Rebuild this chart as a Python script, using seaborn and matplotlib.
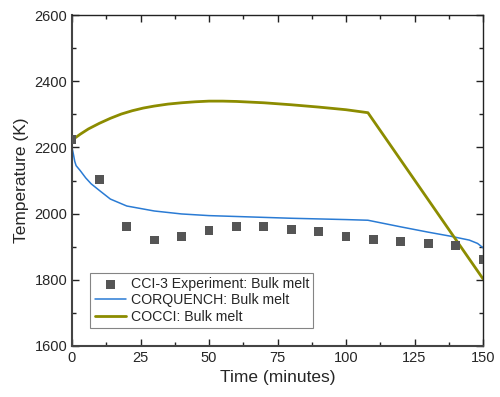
import numpy as np
import pandas as pd
import matplotlib
matplotlib.use('Agg')
import matplotlib.pyplot as plt
import seaborn as sns
from matplotlib.ticker import MultipleLocator

sns.set_style('ticks')
plt.rcParams['font.family'] = ['Liberation Sans', 'DejaVu Sans']

# CCI-3 experiment (bulk melt)
exp_time = [0, 10, 20, 30, 40, 50, 60, 70, 80, 90, 100, 110, 120, 130, 140, 150]
exp_temp = [2225, 2102, 1962, 1920, 1930, 1950, 1962, 1960, 1952, 1945, 1930, 1922, 1915, 1910, 1903, 1862]

# CORQUENCH model
corq_time = [0, 0.5, 1, 1.5, 2, 3, 5, 7, 10, 14, 20, 30, 40, 50, 65, 80, 100, 108, 120, 130, 138, 145, 148, 150]
corq_temp = [2200, 2180, 2158, 2145, 2140, 2130, 2108, 2090, 2070, 2044, 2023, 2008, 1999, 1994, 1990, 1986, 1982, 1980, 1960, 1944, 1932, 1920, 1910, 1897]

# COCCI model
cocci_time = [0, 3, 6, 10, 14, 18, 22, 26, 30, 35, 40, 45, 50, 55, 60, 70, 80, 90, 100, 108, 150]
cocci_temp = [2222, 2240, 2256, 2273, 2288, 2301, 2311, 2319, 2325, 2331, 2335, 2338, 2340, 2340, 2339, 2335, 2329, 2322, 2314, 2305, 1803]

fig = plt.figure(figsize=(5, 3.97), dpi=100)
ax = fig.add_axes([0.144, 0.1285, 0.822, 0.8335])

sns.scatterplot(x=exp_time, y=exp_temp, marker='s', s=40, color='#555555',
                edgecolor='none', label='CCI-3 Experiment: Bulk melt', ax=ax, zorder=3)
sns.lineplot(x=corq_time, y=corq_temp, color='#2a7bd4', linewidth=1.1,
             label='CORQUENCH: Bulk melt', ax=ax, zorder=2)
sns.lineplot(x=cocci_time, y=cocci_temp, color='#8c8c00', linewidth=2,
             label='COCCI: Bulk melt', ax=ax, zorder=2)

ax.set_xlim(0, 150)
ax.set_ylim(1600, 2600)
ax.xaxis.set_major_locator(MultipleLocator(25))
ax.xaxis.set_minor_locator(MultipleLocator(12.5))
ax.yaxis.set_major_locator(MultipleLocator(200))
ax.yaxis.set_minor_locator(MultipleLocator(100))
ax.tick_params(which='both', direction='in', top=True, right=True, labelsize=10.5, color='#222222')
ax.tick_params(which='major', length=5, width=1)
ax.tick_params(which='minor', length=3, width=1)
for side in ['left', 'bottom']:
    ax.spines[side].set_linewidth(1.5)
    ax.spines[side].set_color('#444444')
for side in ['top', 'right']:
    ax.spines[side].set_visible(True)
    ax.spines[side].set_linewidth(1)
    ax.spines[side].set_color('#222222')

ax.set_xlabel('Time (minutes)', fontsize=12.5)
ax.set_ylabel('Temperature (K)', fontsize=12.5)

leg = ax.legend(loc='lower left', bbox_to_anchor=(0.045, 0.055), fontsize=10.2,
                frameon=True, fancybox=False, edgecolor='#666666', borderpad=0.3,
                labelspacing=0.15, handlelength=2.2, handletextpad=0.35, borderaxespad=0)
leg.get_frame().set_linewidth(0.8)

fig.savefig('out.png', dpi=100)
